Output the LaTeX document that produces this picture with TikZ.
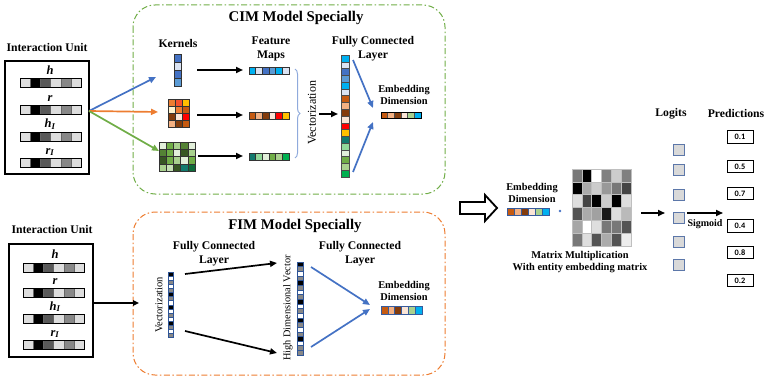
\documentclass[tikz,border=0pt]{standalone}
\usepackage{fontspec}
\setmainfont{Liberation Serif}
\newfontfamily\numfont{Carlito}
\usetikzlibrary{arrows.meta,decorations.pathreplacing,calc}
\definecolor{bA}{HTML}{4472C4}
\definecolor{bL}{HTML}{DAE3F3}
\definecolor{bM}{HTML}{5B9BD5}
\definecolor{cy}{HTML}{00B0F0}
\definecolor{oA}{HTML}{ED7D31}
\definecolor{oR}{HTML}{F4512C}
\definecolor{gd}{HTML}{FFC000}
\definecolor{cr}{HTML}{FFF2CC}
\definecolor{dO}{HTML}{C55A11}
\definecolor{br}{HTML}{843C0C}
\definecolor{pe}{HTML}{FBE5D6}
\definecolor{sa}{HTML}{F4B183}
\definecolor{rd}{HTML}{FF0000}
\definecolor{ga}{HTML}{E2EFDA}
\definecolor{gb}{HTML}{70AD47}
\definecolor{gc}{HTML}{A9D18E}
\definecolor{ge}{HTML}{548235}
\definecolor{gf}{HTML}{375623}
\definecolor{gh}{HTML}{C5E0B4}
\definecolor{tl}{HTML}{127A6E}
\definecolor{lg}{HTML}{92D89A}
\definecolor{bg}{HTML}{00B050}
\definecolor{dg}{HTML}{0E6B3A}
\definecolor{gl}{HTML}{DDDDDD}
\definecolor{gk}{HTML}{595959}
\definecolor{gm}{HTML}{888888}
\definecolor{navy}{HTML}{2F5597}
\definecolor{brc}{HTML}{8FAADC}
\newcommand\cgrid[7]{%
  \foreach \c [count=\i from 0] in {#7}{%
    \pgfmathsetmacro\cx{#1+mod(\i,#5)*#3}%
    \pgfmathsetmacro\cy{#2+floor(\i/#5)*#4}%
    \filldraw[fill=\c,draw=#6,line width=0.5pt] (\cx,\cy) rectangle ++(#3,#4);}}
\newcommand\iubar[2]{%
  \cgrid{#1}{#2}{10.2}{9.5}{6}{black!60}{gl,black,gk,gl,gm,gl}%
  \draw[line width=0.8pt] (#1,#2) rectangle ++(61.2,9.5);}
\begin{document}
\begin{tikzpicture}[x=1pt,y=-1pt,
  lbl/.style={font=\bfseries\fontsize{11.7}{14}\selectfont, align=center, inner sep=0pt},
  ttl/.style={font=\bfseries\fontsize{14.8}{17}\selectfont, inner sep=0pt},
  emb/.style={font=\bfseries\fontsize{10.4}{12}\selectfont, align=center, inner sep=0pt},
  vtxt/.style={rotate=90, inner sep=0pt},
  var/.style={font=\bfseries\itshape\fontsize{12.5}{14}\selectfont, inner sep=0pt, anchor=base},
  arr/.style={line width=1.7pt, -{Triangle[length=7pt,width=6pt]}},
  barr/.style={line width=1.7pt, bA, -{Triangle[length=7pt,width=6pt]}},
  unit/.style={draw, line width=1.2pt, inner sep=0pt},
  cimbox/.style={draw=gb, line width=1pt, dash pattern=on 6pt off 2.5pt on 1.5pt off 2.5pt, rounded corners=22pt},
  fimbox/.style={draw=oA, line width=1pt, dash pattern=on 6pt off 2.5pt on 1.5pt off 2.5pt, rounded corners=22pt},
  pbox/.style={draw, line width=0.8pt, minimum width=26pt, minimum height=12.5pt, inner sep=0pt, font=\numfont\bfseries\fontsize{8.3}{10}\selectfont},
  lsq/.style={draw=bA!60!gray, fill=black!15, line width=0.8pt, minimum width=11pt, minimum height=11pt, inner sep=0pt}
]
\useasboundingbox (0,0) rectangle (765,377);

% ---------------- CIM ----------------
\draw[cimbox] (133,5) rectangle (445,194);
\node[ttl] (cimt) at (296,18) {CIM Model Specially};

\node[lbl] (iut1) at (47,47) {Interaction Unit};
\node[unit, minimum width=84pt, minimum height=113pt] (iu1) at (47,117.5) {};
\node[var] (h1) at (50,75) {h};
\iubar{20}{78}
\node[var] (r1) at (50,102) {r};
\iubar{20}{105}
\node[var] (hh1) at (50,128) {h\textsubscript{I}};
\iubar{20}{132}
\node[var] (rr1) at (50,154) {r\textsubscript{I}};
\iubar{20}{158}

\coordinate (fan1) at (89,111);
\coordinate (k1in) at (156,77);
\coordinate (k2in) at (158,112);
\coordinate (k3in) at (159,151);
\draw[barr] (fan1) -- (k1in);
\draw[line width=1.7pt, oA, -{Triangle[length=7pt,width=6pt]}] (fan1) -- (k2in);
\draw[line width=1.7pt, gb, -{Triangle[length=7pt,width=6pt]}] (fan1) -- (k3in);

\node[lbl] (kern) at (178,43) {Kernels};
\node[lbl] (fmap) at (271,49) {Feature\\Maps};

% kernels
\cgrid{174}{54}{7}{8}{1}{black!80}{bA,bL,bA,bM}
\cgrid{168}{99}{7}{7}{3}{black!80}{oA,oR,gd,cr,oA,dO,br,pe,rd,sa,br,dO}
\cgrid{159}{142}{7.2}{7.25}{5}{black!80}{ga,gb,gc,ge,ga,ge,gb,ga,gf,gc,gf,gb,gc,ga,gb,gc,gh,gf,tl,dg}

\coordinate (a1s) at (197,70);  \coordinate (a1e) at (243,70);
\coordinate (a2s) at (197,115); \coordinate (a2e) at (243,115);
\coordinate (a3s) at (198,156); \coordinate (a3e) at (243,156);
\draw[arr] (a1s) -- (a1e);
\draw[arr] (a2s) -- (a2e);
\draw[arr] (a3s) -- (a3e);

% feature maps
\cgrid{249}{67}{6.67}{7}{6}{black!80}{cy,bL,bA,bM,cy,bL}
\cgrid{249}{112}{6.67}{7}{6}{black!80}{dO,sa,br,pe,rd,gd}
\cgrid{249}{153}{6.67}{7}{6}{black!80}{tl,lg,ga,gb,gc,bg}

\coordinate (brt) at (295,69);
\coordinate (brb) at (295,158);
\draw[brc, line width=1pt, decorate, decoration={brace, amplitude=5pt}] (brt) -- (brb);
\node[vtxt, font=\fontsize{12}{14}\selectfont] (vec1) at (312,113) {Vectorization};
\coordinate (v1s) at (319,114); \coordinate (v1e) at (338,114);
\draw[arr] (v1s) -- (v1e);

% long vector
\cgrid{341}{55}{8}{6.78}{1}{black!70}{cy,bL,bA,bM,cy,bL,dO,sa,br,pe,rd,gd,tl,lg,ga,gb,gc,bg}
\node[lbl] (fc1) at (373,49) {Fully Connected\\Layer};
\coordinate (b1s) at (353,60);  \coordinate (b1e) at (373,108);
\coordinate (b2s) at (353,172); \coordinate (b2e) at (373,122);
\draw[barr] (b1s) -- (b1e);
\draw[barr] (b2s) -- (b2e);
\node[emb] (emb1) at (404,95) {Embedding\\Dimension};
\cgrid{381}{112}{6.67}{6.5}{6}{black!70}{dO,sa,br,pe,gc,cy}
\draw[line width=0.9pt] (381,112) rectangle ++(40,6.5);

% ---------------- FIM ----------------
\draw[fimbox] (133,212) rectangle (445,375);
\node[ttl] (fimt) at (295,226) {FIM Model Specially};

\node[lbl] (iut2) at (52,229) {Interaction Unit};
\node[unit, minimum width=84pt, minimum height=113pt] (iu2) at (51,300.5) {};
\node[var] (h2) at (55,258) {h};
\iubar{23}{263}
\node[var] (r2) at (55,284) {r};
\iubar{23}{288}
\node[var] (hh2) at (55,310) {h\textsubscript{I}};
\iubar{23}{314}
\node[var] (rr2) at (55,336) {r\textsubscript{I}};
\iubar{23}{340}
\coordinate (in2) at (139,303);
\draw[line width=1.5pt, -{Triangle[length=6pt,width=5.5pt]}] (iu2.east |- in2) -- (in2);

\node[vtxt, font=\fontsize{10.5}{12}\selectfont] (vec2) at (159,305) {Vectorization};
\cgrid{168}{272}{5.5}{4.1}{1}{navy}{black,white,gm,white,gm,black,gm,white,black,white,gm,white,black,gm,white,gm}
\node[lbl] (fc2) at (214,254) {Fully Connected\\Layer};
\coordinate (c1s) at (185,274); \coordinate (c1e) at (277,263);
\coordinate (c2s) at (185,331); \coordinate (c2e) at (277,353);
\draw[arr] (c1s) -- (c1e);
\draw[arr] (c2s) -- (c2e);

\node[vtxt, font=\fontsize{10.3}{12}\selectfont] (hdv) at (288,308) {High Dimensional Vector};
\cgrid{297}{262}{6}{4.65}{1}{navy}{black,gm,white,gm,black,gm,white,gm,black,white,gm,white,black,gm,white,gm,black,white,gm,gm}

\node[lbl] (fc3) at (360,254) {Fully Connected\\Layer};
\coordinate (d1s) at (311,267); \coordinate (d1e) at (370,305);
\coordinate (d2s) at (311,347); \coordinate (d2e) at (370,309);
\draw[barr] (d1s) -- (d1e);
\draw[barr] (d2s) -- (d2e);
\node[emb] (emb2) at (404,291) {Embedding\\Dimension};
\cgrid{381}{306}{6.83}{8}{6}{bA!80!black}{dO,sa,br,pe,gc,cy}

% ---------------- right part ----------------
\draw[line width=1.8pt, fill=white] (460,202) -- (485,202) -- (485,195) -- (497,208) -- (485,221) -- (485,214) -- (460,214) -- cycle;
\node[emb] (emb3) at (532,193) {Embedding\\Dimension};
\cgrid{507}{208}{7}{7.5}{6}{bA!80!black}{dO,sa,br,pe,gc,cy}
\fill[bA] (560,211) circle (1.3pt);

\cgrid{572}{169}{9.83}{12.83}{6}{black!25}{black!53,black!100,black!0,black!50,black!20,black!50,black!100,black!33,black!20,black!40,black!53,black!73,black!13,black!73,black!100,black!20,black!100,black!13,black!67,black!33,black!37,black!90,black!13,black!27,black!35,black!0,black!13,black!53,black!53,black!67,black!53,black!13,black!67,black!33,black!67,black!7}
\node[emb, font=\bfseries\fontsize{10.4}{11.5}\selectfont] (mm) at (580,262) {Matrix Multiplication\\With entity embedding matrix};

\coordinate (m1s) at (641,213); \coordinate (m1e) at (665,213);
\draw[arr] (m1s) -- (m1e);

\node[lbl] (logt) at (671,114) {Logits};
\node[lbl] (pred) at (736,113) {Predictions};
\node[lsq] (l1) at (678.5,149.5) {};
\node[lsq] (l2) at (678.5,169.5) {};
\node[lsq] (l3) at (678.5,194.5) {};
\node[lsq] (l4) at (678.5,217.5) {};
\node[lsq] (l5) at (678.5,241.5) {};
\node[lsq] (l6) at (678.5,264.5) {};

\coordinate (sg) at (723,213);
\draw[arr] (l4.east |- sg) ++(3,0) -- (sg);
\node[emb, font=\bfseries\fontsize{10}{12}\selectfont] (sig) at (705,224) {Sigmoid};

\node[pbox] (p1) at (740,137) {0.1};
\node[pbox] (p2) at (740,166.5) {0.5};
\node[pbox] (p3) at (740,193.5) {0.7};
\node[pbox] (p4) at (740,226) {0.4};
\node[pbox] (p5) at (740,252.5) {0.8};
\node[pbox] (p6) at (740,280.5) {0.2};
\end{tikzpicture}
\end{document}
